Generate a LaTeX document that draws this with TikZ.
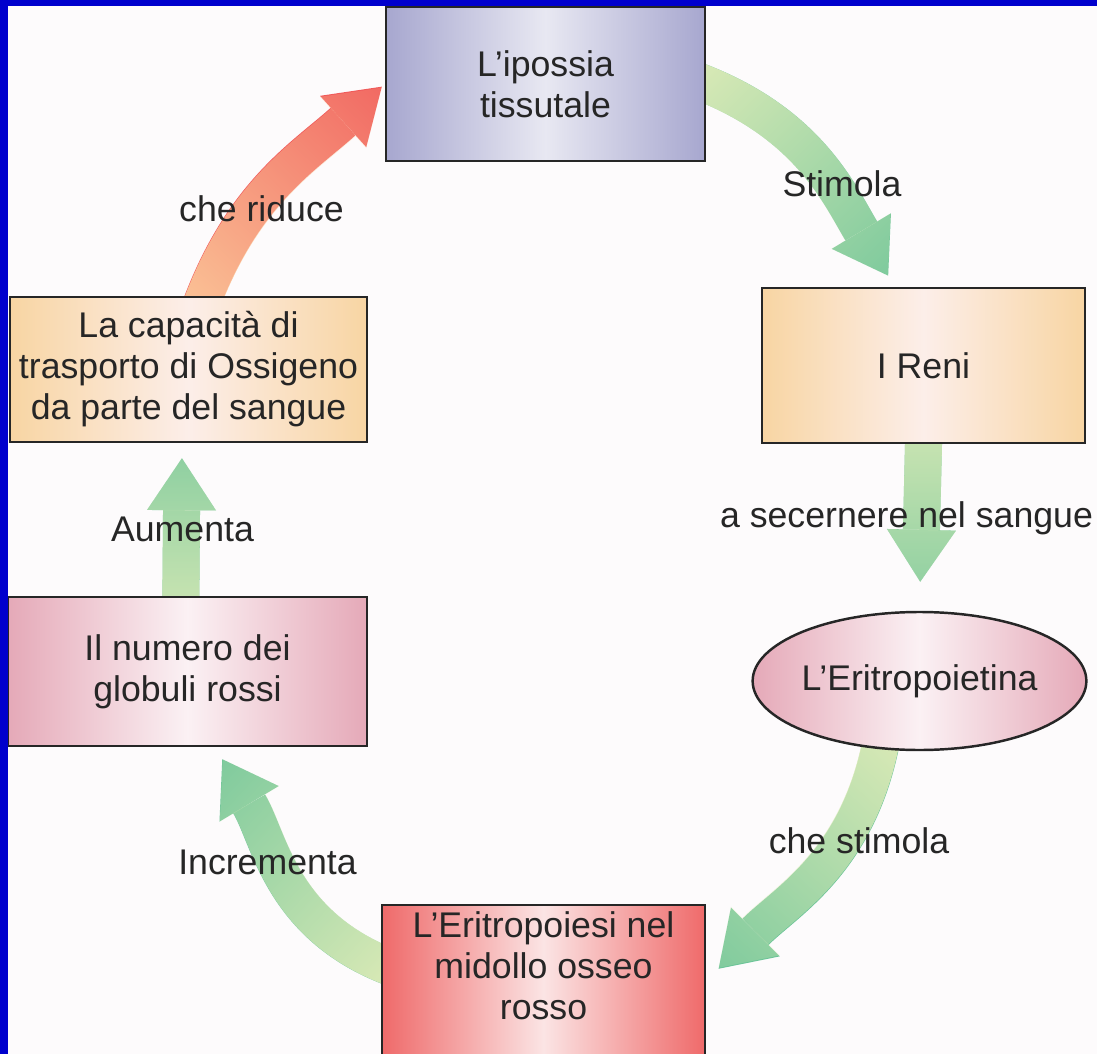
\documentclass[tikz,border=0pt]{standalone}
\usepackage{fontspec}
\setmainfont{Liberation Sans}
\usetikzlibrary{arrows.meta,shapes.geometric,fadings,backgrounds}
\definecolor{blu}{HTML}{0000CD}
\definecolor{sfondo}{HTML}{FDFBFC}
\definecolor{testo}{HTML}{262626}
\definecolor{lavanda}{HTML}{A7A7CF}
\definecolor{lavandachiaro}{HTML}{E8E8F2}
\definecolor{pesca}{HTML}{F8D5A3}
\definecolor{pescachiaro}{HTML}{FCEEE9}
\definecolor{rosa}{HTML}{E5A9B8}
\definecolor{rosachiaro}{HTML}{FBF1F4}
\definecolor{rosso}{HTML}{EF6A6A}
\definecolor{rossochiaro}{HTML}{FBE4E4}
\definecolor{verde}{HTML}{6CC498}
\definecolor{verdechiaro}{HTML}{E3EDB9}
\definecolor{corallo}{HTML}{F05A5A}
\definecolor{arancio}{HTML}{FCCB9B}

\begin{document}
\begin{tikzpicture}[
  font=\fontsize{20.3}{23.3}\selectfont,
  text=testo,
  scatola/.style={draw=testo, line width=1.4pt, align=center, inner sep=4pt},
  freccia/.style={line width=0.74cm, shorten <=-0.3cm,
    -{Triangle[length=1.04cm, width=1.38cm, line width=0pt]}},
  sfuma/.style 2 args={postaction={draw=#1, path fading=east,
    fading transform={rotate=#2, scale=1.6}}}
]
  \useasboundingbox (0,0) rectangle (21.94,-21.08);

  % --- caselle del ciclo
  \node[scatola, left color=lavanda, right color=lavanda, middle color=lavandachiaro,
        minimum width=6.38cm, minimum height=3.08cm] (ipossia) at (10.91,-1.68)
        {L'ipossia\\tissutale};
  \node[scatola, left color=pesca, right color=pesca, middle color=pescachiaro,
        minimum width=6.46cm, minimum height=3.10cm] (reni) at (18.47,-7.31) {I Reni};
  \node[scatola, ellipse, inner sep=0pt, left color=rosa, right color=rosa, middle color=rosachiaro,
        minimum width=6.5cm, minimum height=2.76cm] (epo) at (18.39,-13.62) {L'Eritropoietina};
  \node[scatola, left color=rosso, right color=rosso, middle color=rossochiaro,
        minimum width=6.46cm, minimum height=3.5cm] (midollo) at (10.87,-19.85) {};
  \node[align=center] (midollotesto) at (10.87,-19.31) {L'Eritropoiesi nel\\midollo osseo\\rosso};
  \node[scatola, left color=rosa, right color=rosa, middle color=rosachiaro,
        minimum width=7.18cm, minimum height=2.98cm] (globuli) at (3.75,-13.43)
        {Il numero dei\\globuli rossi};
  \node[scatola, left color=pesca, right color=pesca, middle color=pescachiaro,
        minimum width=7.14cm, minimum height=2.90cm] (capacita) at (3.77,-7.39)
        {La capacità di\\trasporto di Ossigeno\\da parte del sangue};

  % --- frecce (sotto le caselle)
  \begin{scope}[on background layer]
    \fill[sfondo] (0,0) rectangle (21.94,-21.08);
    \draw[freccia, verde, sfuma={verdechiaro}{-47}, shorten >=0.26cm]
      (ipossia.east) to[out=-20, in=121] (reni.110);
    \draw[freccia, verde, sfuma={verdechiaro}{-90}, shorten >=0.58cm]
      (reni.south) -- (epo.north);
    \draw[freccia, verde, sfuma={verdechiaro}{-126}, shorten >=0.35cm]
      (epo.240) to[out=-100, in=45] (midollo.4);
    \draw[freccia, verde, sfuma={verdechiaro}{131}, shorten >=0.28cm]
      (midollo.170) to[out=160, in=-59] (globuli.-70);
    \draw[freccia, verde, sfuma={verdechiaro}{90}, shorten >=0.3cm]
      (globuli.95) -- (capacita.-95);
    \draw[freccia, corallo, sfuma={arancio}{50}, shorten >=0.08cm]
      (capacita.78) to[out=70, in=222] (ipossia.west);
  \end{scope}

  % --- etichette
  \node (stimola) at (16.84,-3.67) {Stimola};
  \node (secernere) at (18.13,-10.37) {a secernere nel sangue};
  \node (chestimola) at (17.18,-16.82) {che stimola};
  \node (incrementa) at (5.35,-17.25) {Incrementa};
  \node (aumenta) at (3.65,-10.59) {Aumenta};
  \node (riduce) at (5.23,-4.17) {che riduce};

  % --- cornice blu
  \fill[blu] (0,0) rectangle (0.16,-21.08);
  \fill[blu] (0,0) rectangle (21.94,-0.12);
\end{tikzpicture}
\end{document}
